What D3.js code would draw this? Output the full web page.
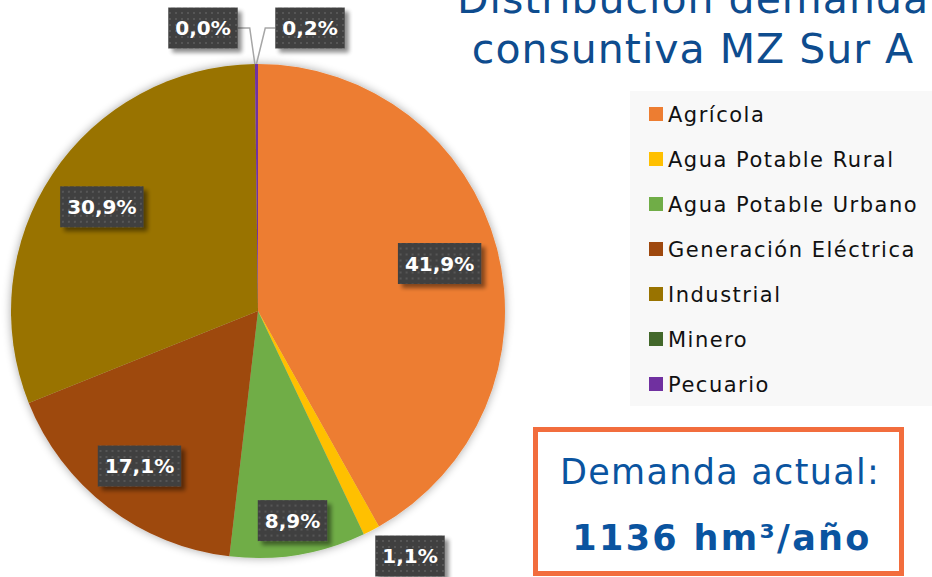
<!DOCTYPE html>
<html><head><meta charset="utf-8">
<script src="https://cdn.jsdelivr.net/npm/d3@7"></script>
<style>body{margin:0;background:#fff;}svg{display:block;font-family:"DejaVu Sans",Verdana,sans-serif;}</style>
</head><body>
<svg id="c" width="932" height="577"></svg>
<script>
const categories = ["Agrícola","Agua Potable Rural","Agua Potable Urbano","Generación Eléctrica","Industrial","Minero","Pecuario"];
const values = [41.9, 1.1, 8.9, 17.1, 30.9, 0.0, 0.2];
const labels = ["41,9%","1,1%","8,9%","17,1%","30,9%","0,0%","0,2%"];
const colors = ["#ED7D31","#FFC000","#70AD47","#9E480E","#997300","#43682B","#7030A0"];
const titleLines = ["Distribución demanda","consuntiva MZ Sur A"];
const totalLabel = "Demanda actual:";
const totalValue = "1136";

const svg = d3.select("#c");
const defs = svg.append("defs");
const sh = defs.append("filter").attr("id","pieShadow").attr("x","-20%").attr("y","-20%").attr("width","140%").attr("height","140%");
sh.append("feGaussianBlur").attr("in","SourceAlpha").attr("stdDeviation",5).attr("result","b");
sh.append("feOffset").attr("in","b").attr("dx",0).attr("dy",0).attr("result","o");
sh.append("feComponentTransfer").attr("in","o").attr("result","o2").append("feFuncA").attr("type","linear").attr("slope",0.35);
const m1 = sh.append("feMerge"); m1.append("feMergeNode").attr("in","o2"); m1.append("feMergeNode").attr("in","SourceGraphic");

const ls = defs.append("filter").attr("id","lblShadow").attr("x","-20%").attr("y","-30%").attr("width","150%").attr("height","170%");
ls.append("feGaussianBlur").attr("in","SourceAlpha").attr("stdDeviation",2).attr("result","b");
ls.append("feOffset").attr("in","b").attr("dx",4).attr("dy",4).attr("result","o");
ls.append("feComponentTransfer").attr("in","o").attr("result","o2").append("feFuncA").attr("type","linear").attr("slope",0.45);
const m2 = ls.append("feMerge"); m2.append("feMergeNode").attr("in","o2"); m2.append("feMergeNode").attr("in","SourceGraphic");

const pat = defs.append("pattern").attr("id","dots").attr("patternUnits","userSpaceOnUse").attr("width",6).attr("height",6);
pat.append("rect").attr("width",6).attr("height",6).attr("fill","#404040");
pat.append("rect").attr("x",2).attr("y",2).attr("width",2).attr("height",2).attr("fill","#575757");

const cx = 258, cy = 311, R = 247;
const data = categories.map((c,i)=>({cat:c, value:values[i], label:labels[i], color:colors[i]}));
const pie = d3.pie().value(d=>d.value).sort(null);
const arcs = pie(data);
const arc = d3.arc().innerRadius(0).outerRadius(R);
const g = svg.append("g").attr("transform",`translate(${cx},${cy})`);
const pg = g.append("g").attr("filter","url(#pieShadow)");
pg.selectAll("path").data(arcs).enter().append("path")
  .attr("d",arc).attr("fill",d=>d.data.color);

// label placement: radial fraction for inside labels; explicit offsets for tiny slices
const labelR = [0.76, null, 0.86, 0.79, 0.76, null, null];
const outside = {1:[152,245], 5:[-55,-283], 6:[52,-283]};
const lblG = g.append("g");
arcs.forEach((a,i)=>{
  let x,y;
  if (labelR[i]!==null){
    const c = d3.arc().innerRadius(R*labelR[i]).outerRadius(R*labelR[i]).centroid(a);
    x=c[0]; y=c[1];
  } else { x=outside[i][0]; y=outside[i][1]; }
  const lg = lblG.append("g").attr("transform",`translate(${x},${y})`);
  const t = lg.append("text").attr("text-anchor","middle").attr("dy","0.36em")
    .attr("fill","#fff").attr("font-weight","bold").attr("font-size",20).text(a.data.label);
  const bb = t.node().getBBox();
  const w = bb.width+14, h = 41;
  lg.insert("rect","text").attr("x",-w/2).attr("y",-h/2).attr("width",w).attr("height",h)
    .attr("fill","url(#dots)").attr("filter","url(#lblShadow)");
  a.lblBox = {x, y, w, h};
});
// leader lines for tiny top slices
[5,6].forEach(i=>{
  const a = arcs[i], b = a.lblBox;
  const mid = (a.startAngle+a.endAngle)/2;
  const px = R*Math.sin(mid), py = -R*Math.cos(mid);
  const sx = i===5 ? b.x + b.w/2 : b.x - b.w/2;
  const kx = i===5 ? sx + 12 : sx - 10;
  lblG.insert("path",":first-child").attr("d",`M${sx},${b.y}L${kx},${b.y}L${px},${py}`)
    .attr("fill","none").attr("stroke","#a6a6a6").attr("stroke-width",1.5);
});

// title
const blue = "#0E4C8E";
svg.append("g").selectAll("text").data(titleLines).enter().append("text")
  .attr("x",693).attr("y",(d,i)=>13+i*50).attr("text-anchor","middle")
  .attr("font-size",41).attr("letter-spacing",1).attr("fill",blue).text(d=>d);

// legend
svg.append("rect").attr("x",630).attr("y",91).attr("width",302).attr("height",315).attr("fill","#f8f8f8");
const leg = svg.append("g").selectAll("g").data(data).enter().append("g")
  .attr("transform",(d,i)=>`translate(649,${107+i*45})`);
leg.append("rect").attr("width",14).attr("height",14).attr("fill",d=>d.color);
leg.append("text").attr("x",19).attr("y",15).attr("font-size",21).attr("letter-spacing",1.5)
  .attr("fill","#111").text(d=>d.cat);

// total box
svg.append("rect").attr("x",535.5).attr("y",429.5).attr("width",366).attr("height",144)
  .attr("fill","#fff").attr("stroke","#F26D3D").attr("stroke-width",5);
svg.append("text").attr("x",720).attr("y",484).attr("text-anchor","middle").attr("font-size",35)
  .attr("letter-spacing",1.3).attr("fill","#0A54A0").text(totalLabel);
const tv = svg.append("text").attr("x",722).attr("y",550).attr("text-anchor","middle").attr("font-size",35)
  .attr("letter-spacing",2.3).attr("font-weight","bold").attr("fill","#0A54A0");
tv.append("tspan").text(totalValue+" hm³/año");
</script>
</body></html>
